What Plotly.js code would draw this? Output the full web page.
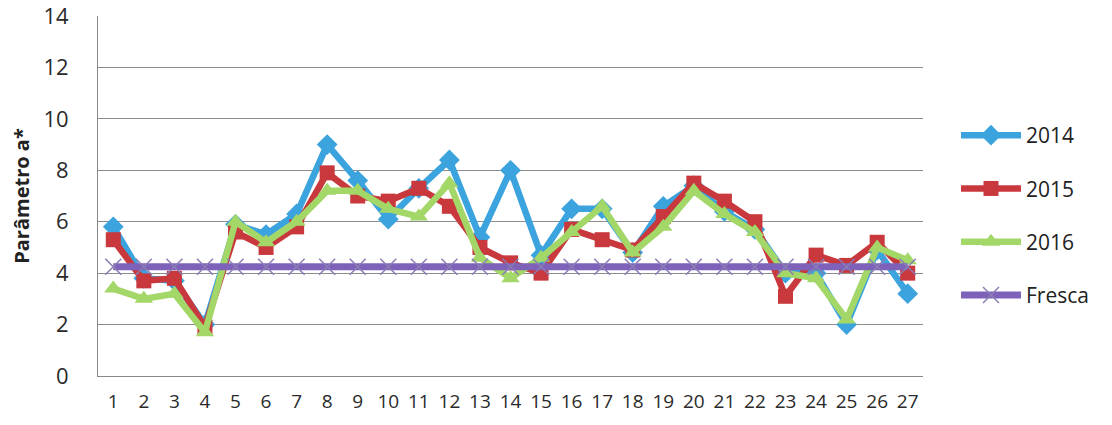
<!DOCTYPE html>
<html>
<head>
<meta charset="utf-8">
<script src="https://cdn.plot.ly/plotly-3.0.1.min.js"></script>
<style>html,body{margin:0;padding:0;background:#fff;}#chart{width:1112px;height:425px;}</style>
</head>
<body>
<div id="chart"></div>
<script>
const categories = [1,2,3,4,5,6,7,8,9,10,11,12,13,14,15,16,17,18,19,20,21,22,23,24,25,26,27];
const tickLabels = categories.map(String);
const s2014 = [5.8,3.8,3.7,2.0,5.9,5.5,6.3,9.0,7.6,6.1,7.3,8.4,5.4,8.0,4.7,6.5,6.5,4.8,6.6,7.4,6.4,5.7,4.0,4.0,2.0,4.9,3.2];
const s2015 = [5.3,3.7,3.8,1.9,5.6,5.0,5.8,7.9,7.0,6.8,7.3,6.6,5.0,4.4,4.0,5.7,5.3,4.9,6.2,7.5,6.8,6.0,3.1,4.7,4.3,5.2,4.0];
const s2016 = [3.4,3.0,3.2,1.7,6.0,5.2,6.0,7.2,7.2,6.5,6.2,7.5,4.6,3.8,4.6,5.6,6.6,4.8,5.8,7.2,6.3,5.6,4.0,3.8,2.2,5.0,4.5];
const fresca = [4.25,4.25,4.25,4.25,4.25,4.25,4.25,4.25,4.25,4.25,4.25,4.25,4.25,4.25,4.25,4.25,4.25,4.25,4.25,4.25,4.25,4.25,4.25,4.25,4.25,4.25,4.25];
const seriesNames = ['2014','2015','2016','Fresca'];

const x = tickLabels;
const traces = [
  {x:x, y:s2014, name:seriesNames[0], legendgroup:'a', mode:'lines+markers', type:'scatter',
   line:{color:'#3BA3DD', width:6.5}, marker:{symbol:'diamond', size:16, color:'#3BA3DD'}},
  {x:x, y:s2015, name:seriesNames[1], legendgroup:'b', mode:'lines+markers', type:'scatter',
   line:{color:'#C8383C', width:6.5}, marker:{symbol:'square', size:15, color:'#C8383C'}},
  {x:x, y:s2016, name:seriesNames[2], legendgroup:'c', mode:'lines+markers', type:'scatter',
   line:{color:'#A3D768', width:6.5}, marker:{symbol:'triangle-up', size:16, color:'#A3D768'}},
  {x:x, y:fresca, name:seriesNames[3], legendgroup:'d', mode:'lines+markers', type:'scatter',
   line:{color:'#7E62B9', width:7}, marker:{symbol:'x-thin-open', size:16, color:'#8A7DB5', line:{width:1.5, color:'#8A7DB5'}}}
];

const layout = {
  width:1112, height:425,
  margin:{l:98, r:189, t:16, b:49},
  paper_bgcolor:'#fff', plot_bgcolor:'#fff',
  font:{family:'Open Sans, Liberation Sans, sans-serif', color:'#333'},
  xaxis:{type:'category', tickvals:tickLabels, ticktext:tickLabels, showgrid:false, zeroline:false,
    showline:true, linecolor:'#888', linewidth:1, mirror:false, ticks:'', tickfont:{size:19, color:'#2a2a2a'},
    ticklabelstandoff:8, ticklabeloverflow:'allow', automargin:false, range:[-0.5, 26.5]},
  yaxis:{range:[0,14], dtick:2, tick0:0, showgrid:true, gridcolor:'#8c8c8c', gridwidth:1, zeroline:false,
    showline:true, linecolor:'#888', linewidth:1, ticks:'', tickfont:{size:22, color:'#2a2a2a'},
    ticklabelstandoff:24, ticklabeloverflow:'allow', automargin:false,
    title:{text:'<b>Parâmetro a*</b>', font:{size:20, color:'#222'}, standoff:8}},
  legend:{x:1.04, y:0.725, xanchor:'left', yanchor:'top', font:{size:21, color:'#222'},
    tracegroupgap:23, itemwidth:60, bgcolor:'rgba(0,0,0,0)'},
  showlegend:true
};
Plotly.newPlot('chart', traces, layout, {displayModeBar:false, staticPlot:true});
</script>
</body>
</html>
